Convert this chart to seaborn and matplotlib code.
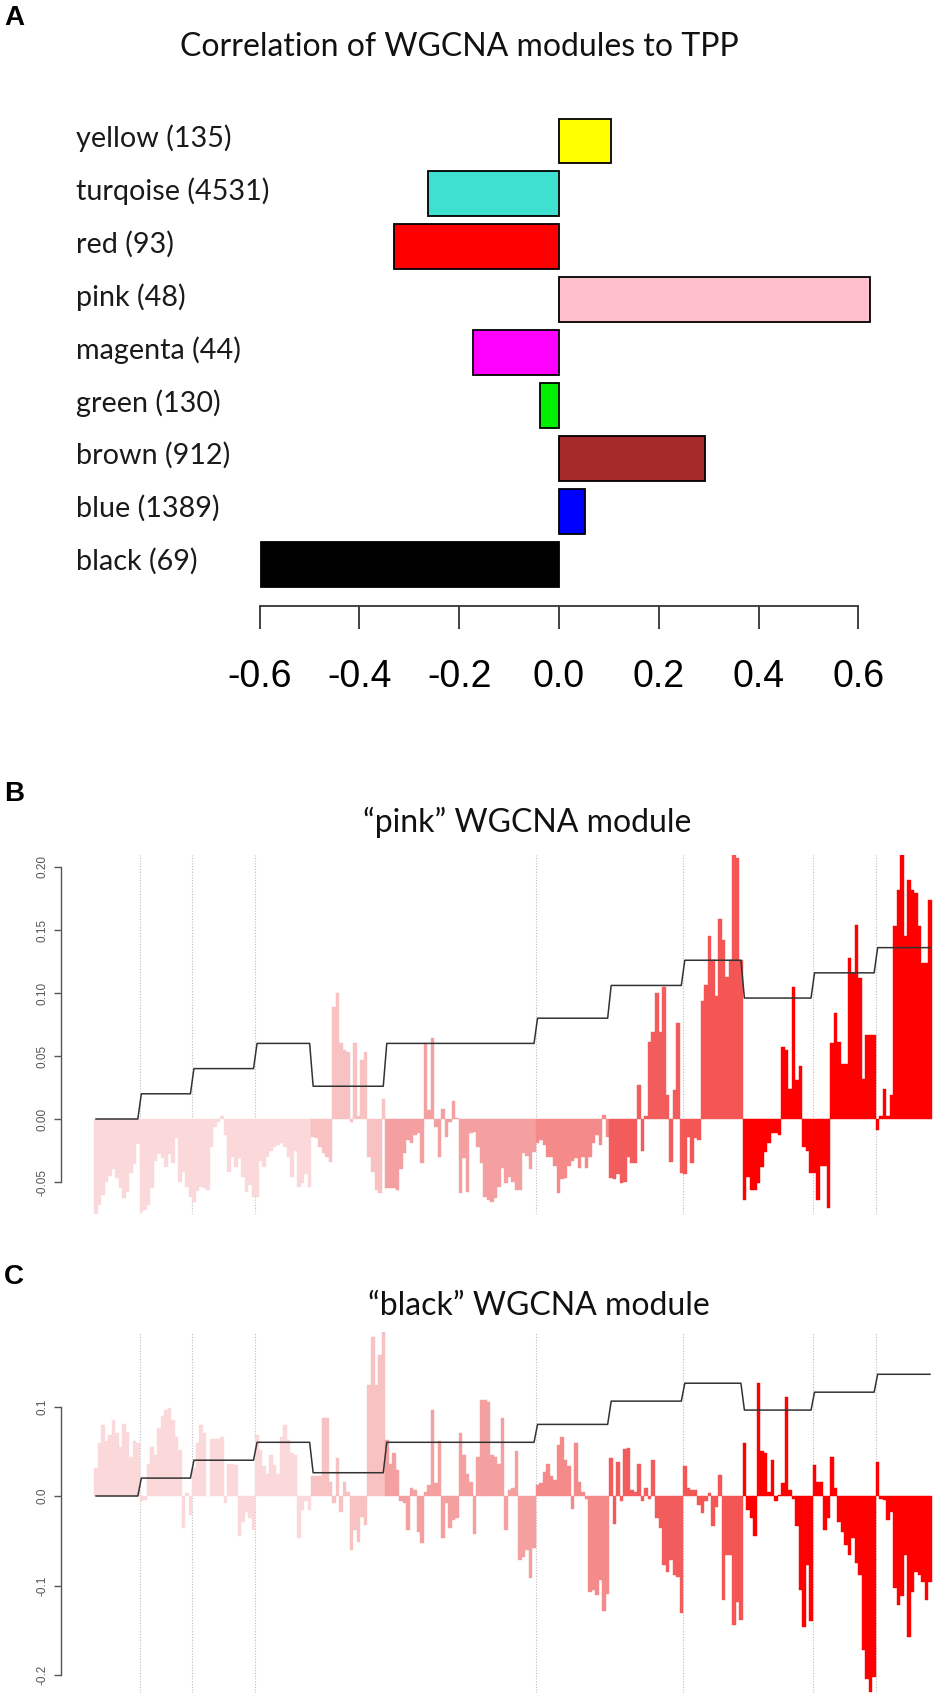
import numpy as np
import pandas as pd
import matplotlib
matplotlib.use("Agg")
import matplotlib.pyplot as plt
import matplotlib.transforms as mtransforms
import seaborn as sns

sns.set_theme(style="white")
plt.rcParams['font.family'] = ['Lato', 'DejaVu Sans']

# ---- panel A data ----
module_labels = ["yellow (135)", "turqoise (4531)", "red (93)", "pink (48)", "magenta (44)",
                 "green (130)", "brown (912)", "blue (1389)", "black (69)"]
module_corr = [0.104, -0.262, -0.330, 0.623, -0.172, -0.039, 0.292, 0.052, -0.598]
module_colors = ["#FFFF00", "#40E0D0", "#FF0000", "#FFC0CB", "#FF00FF",
                 "#00EE00", "#A52A2A", "#0000FF", "#000000"]
a_ticks = [-0.6, -0.4, -0.2, 0.0, 0.2, 0.4, 0.6]
a_ticklabels = ["-0.6", "-0.4", "-0.2", "0.0", "0.2", "0.4", "0.6"]

# ---- panels B / C: sample groups ----
group_sizes = [13, 15, 18, 16, 21, 43, 21, 21, 17, 20, 18, 16]
step_levels = [0.0, 0.02, 0.04, 0.06, 0.026, 0.06, 0.08, 0.106, 0.126, 0.096, 0.116, 0.136]
group_colors = ["#FBD9DA", "#FBD9DA", "#FBD9DA", "#FBD9DA", "#F8C2C3", "#F5A0A0",
                "#F48A8A", "#F25C5C", "#F45656", "#FF0000", "#FF0000", "#FF0000"]
dotted_after = [1, 2, 3, 6, 8, 10, 11]

pink_vals = [
    -0.075, -0.068, -0.060, -0.050, -0.045, -0.040, -0.047, -0.055, -0.063, -0.058, -0.043, -0.036, -0.020,
    -0.074, -0.072, -0.068, -0.055, -0.033, -0.028, -0.031, -0.038, -0.028, -0.035, -0.015, -0.050, -0.042, -0.054, -0.062,
    -0.066, -0.057, -0.054, -0.055, -0.056, -0.022, -0.006, -0.002, 0.002, -0.013, -0.042, -0.030, -0.038, -0.031, -0.046, -0.058, -0.052, -0.062,
    -0.062, -0.033, -0.038, -0.030, -0.025, -0.022, -0.021, -0.019, -0.022, -0.030, -0.046, -0.025, -0.054, -0.051, -0.044, -0.054,
    -0.014, -0.015, -0.022, -0.027, -0.030, -0.034, 0.089, 0.100, 0.060, 0.055, 0.053, -0.002, 0.060, 0.002, 0.047, 0.053, -0.030, -0.042, -0.056, -0.059, 0.016,
    -0.055, -0.055, -0.055, -0.056, -0.040, -0.027, -0.017, -0.019, -0.013, -0.011, -0.035, 0.060, 0.007, 0.064, -0.006, -0.030, 0.008, -0.014, -0.002, 0.014,
    0.001, -0.059, -0.031, -0.058, -0.011, -0.010, -0.022, -0.035, -0.062, -0.064, -0.066, -0.063, -0.054, -0.039, -0.051, -0.046, -0.050, -0.056, -0.056, -0.027,
    -0.029, -0.040, -0.026,
    -0.019, -0.017, -0.021, -0.030, -0.030, -0.037, -0.059, -0.048, -0.047, -0.037, -0.033, -0.031, -0.039, -0.030, -0.039, -0.030, -0.019, -0.013, -0.021, 0.003, -0.014,
    -0.047, -0.048, -0.044, -0.051, -0.050, -0.030, -0.035, -0.035, 0.027, -0.025, 0.002, 0.061, 0.069, 0.100, 0.069, 0.105, 0.019, -0.034, 0.023, 0.076, -0.043,
    -0.044, -0.014, -0.035, -0.015, -0.017, 0.094, 0.106, 0.145, 0.126, 0.098, 0.159, 0.142, 0.113, 0.126, 0.211, 0.207, 0.126,
    -0.064, -0.046, -0.056, -0.056, -0.051, -0.038, -0.026, -0.019, -0.011, -0.011, -0.013, 0.057, 0.055, 0.024, 0.105, 0.031, 0.042, -0.022, -0.025, -0.043,
    -0.043, -0.064, -0.037, -0.037, -0.071, 0.060, 0.084, 0.061, 0.044, 0.044, 0.128, 0.116, 0.154, 0.112, 0.032, 0.067, 0.067, 0.067,
    -0.009, 0.002, 0.024, 0.002, 0.019, 0.153, 0.182, 0.211, 0.145, 0.190, 0.182, 0.179, 0.153, 0.124, 0.124, 0.174,
]

black_vals = [
    0.031, 0.059, 0.079, 0.061, 0.068, 0.085, 0.070, 0.055, 0.081, 0.072, 0.044, 0.061, 0.059,
    -0.006, -0.004, 0.036, 0.055, 0.046, 0.076, 0.089, 0.096, 0.098, 0.085, 0.066, 0.051, -0.036, 0.003, -0.021,
    0.031, 0.059, 0.079, 0.070, 0.000, 0.064, 0.064, 0.064, 0.066, -0.008, 0.036, 0.036, 0.035, -0.045, -0.029, -0.018, -0.025, -0.038,
    0.068, 0.051, 0.033, 0.025, 0.046, 0.035, 0.025, 0.066, 0.079, 0.063, 0.048, 0.046, -0.047, -0.016, -0.006, -0.016,
    0.022, 0.022, 0.022, 0.087, 0.087, 0.016, -0.008, 0.042, -0.018, 0.016, 0.005, -0.060, -0.038, -0.051, -0.023, -0.032, 0.124, 0.178, 0.124, 0.158, 0.184,
    0.063, 0.036, 0.048, 0.029, -0.006, -0.008, -0.038, 0.009, 0.007, -0.040, -0.053, 0.005, 0.012, 0.096, 0.014, 0.061, -0.047, -0.008, -0.036, -0.027,
    -0.025, 0.070, 0.046, 0.025, 0.016, -0.042, 0.044, 0.107, 0.107, 0.105, 0.046, 0.044, 0.036, 0.087, -0.038, 0.007, 0.009, 0.050, -0.072, -0.068,
    -0.060, -0.092, -0.058,
    0.012, 0.014, 0.027, 0.036, 0.022, 0.018, 0.057, 0.066, 0.040, 0.033, -0.014, 0.059, 0.016, 0.005, -0.003, -0.107, -0.105, -0.111, -0.094, -0.128, -0.109,
    0.042, -0.031, 0.038, -0.006, 0.053, 0.054, 0.007, 0.005, 0.036, -0.006, 0.009, -0.003, 0.040, -0.025, -0.036, -0.077, -0.085, -0.072, -0.088, -0.090, -0.131,
    0.033, 0.009, 0.007, 0.007, -0.010, -0.019, -0.006, 0.003, -0.034, -0.012, 0.023, -0.116, -0.066, -0.066, -0.144, -0.118, -0.139,
    0.059, -0.016, -0.025, -0.045, 0.126, 0.050, 0.048, 0.005, 0.040, -0.006, 0.001, 0.014, 0.111, 0.007, -0.003, -0.034, -0.105, -0.146, -0.077, -0.140,
    0.035, 0.016, 0.016, -0.038, -0.025, 0.044, 0.009, -0.029, -0.040, -0.055, -0.066, -0.047, -0.075, -0.088, -0.172, -0.204, -0.219, -0.202,
    0.038, -0.003, -0.004, -0.027, -0.018, -0.103, -0.122, -0.112, -0.066, -0.157, -0.107, -0.085, -0.088, -0.096, -0.116, -0.096,
]

n_bars = sum(group_sizes)
assert len(pink_vals) == n_bars and len(black_vals) == n_bars

W, H = 950, 1705
fig = plt.figure(figsize=(W / 100, H / 100), dpi=100)


def px_axes(left, top, right, bottom):
    return fig.add_axes([left / W, 1 - bottom / H, (right - left) / W, (bottom - top) / H])


# ------------------------------------------------------------------ panel A
x0, sx = 559, 499          # pixel of 0.0 and pixels per unit
y0, sy = 141, 52.9         # pixel of first bar centre and bar spacing
a_top, a_bottom = 100, 605.5
axA = px_axes(230, a_top, 900, a_bottom)
dfA = pd.DataFrame({"module": module_labels, "corr": module_corr})
sns.barplot(data=dfA, x="corr", y="module", hue="module", order=module_labels,
            hue_order=module_labels, palette=module_colors, saturation=1, orient="h",
            width=0.85, edgecolor="black", linewidth=1.3, legend=False, ax=axA)
axA.set_xlim((230 - x0) / sx, (900 - x0) / sx)
axA.set_ylim((a_bottom - y0) / sy, (a_top - y0) / sy)
axA.set_xlabel("")
axA.set_ylabel("")
axA.set_yticks([])
for s in ["left", "top", "right"]:
    axA.spines[s].set_visible(False)
axA.spines["bottom"].set_bounds(a_ticks[0], a_ticks[-1])
axA.spines["bottom"].set_color("#333333")
axA.spines["bottom"].set_linewidth(1.3)
axA.set_xticks(a_ticks)
axA.set_xticklabels(a_ticklabels)
axA.tick_params(axis="x", bottom=True, length=16.5, width=1.3, color="#333333",
                pad=22, labelsize=27, labelcolor="black")
for lbl in axA.get_xticklabels():
    lbl.set_family("Liberation Sans")

lab_tr = mtransforms.blended_transform_factory(fig.transFigure, axA.transData)
for i, name in enumerate(module_labels):
    axA.text(76 / W, i - 0.05, name, transform=lab_tr, ha="left", va="center",
             fontsize=20.7, color="#1a1a1a")

fig.text(459 / W, 1 - 47 / H, "Correlation of WGCNA modules to TPP", ha="center",
         va="center", fontsize=23, color="#111111")

# ------------------------------------------------------------------ panels B, C
bw = 838 / n_bars
idx = np.arange(n_bars)
grp = np.repeat([f"g{k}" for k in range(len(group_sizes))], group_sizes)
grp_palette = {f"g{k}": c for k, c in enumerate(group_colors)}
steps = np.repeat(step_levels, group_sizes)
bounds = np.cumsum(group_sizes)


def module_panel(top, bottom, zero_px, px_per_unit, vals, ticks, ticklabels):
    ax = px_axes(60.7, top, 945, bottom)
    df = pd.DataFrame({"idx": idx, "val": vals, "grp": grp})
    sns.barplot(data=df, x="idx", y="val", hue="grp", palette=grp_palette, saturation=1,
                native_scale=True, width=1, linewidth=0, legend=False, ax=ax)
    for p in ax.patches:
        p.set_edgecolor(p.get_facecolor())
        p.set_linewidth(0.3)
    for k in dotted_after:
        ax.axvline(bounds[k - 1] - 0.5, color="#BDBDBD", lw=0.8, ls=(0, (1, 1.5)), zorder=0)
    sns.lineplot(x=idx, y=steps, color="#333333", linewidth=1.1, ax=ax)
    ax.set_xlim((60.7 - 94) / bw - 0.5, (945 - 94) / bw - 0.5)
    ax.set_ylim((zero_px - bottom) / px_per_unit, (zero_px - top) / px_per_unit)
    ax.set_xticks([])
    ax.set_xlabel("")
    ax.set_ylabel("")
    for s in ["top", "right", "bottom"]:
        ax.spines[s].set_visible(False)
    ax.spines["left"].set_bounds(ticks[0], ticks[-1])
    ax.spines["left"].set_color("#555555")
    ax.spines["left"].set_linewidth(1.0)
    ax.set_yticks(ticks)
    ax.set_yticklabels(ticklabels, rotation=90, va="center", family="Liberation Sans")
    ax.tick_params(axis="y", left=True, length=5, width=1.0, color="#555555",
                   pad=4, labelsize=8.5, labelcolor="#555555")
    return ax


module_panel(855, 1214, 1119, 1260, pink_vals,
             [-0.05, 0.0, 0.05, 0.10, 0.15, 0.20],
             ["-0.05", "0.00", "0.05", "0.10", "0.15", "0.20"])
module_panel(1332, 1693, 1496, 895, black_vals,
             [-0.2, -0.1, 0.0, 0.1],
             ["-0.2", "-0.1", "0.0", "0.1"])

fig.text(527 / W, 1 - 822 / H, "\u201cpink\u201d WGCNA module", ha="center", va="center",
         fontsize=23, color="#111111")
fig.text(539 / W, 1 - 1306 / H, "\u201cblack\u201d WGCNA module", ha="center", va="center",
         fontsize=23, color="#111111")

for letter, ypx in [("A", 18), ("B", 794), ("C", 1277)]:
    fig.text(4 / W, 1 - ypx / H, letter, ha="left", va="center", fontsize=20,
             fontweight="bold", family="Liberation Sans", color="black")

fig.savefig("out.png", dpi=100)
